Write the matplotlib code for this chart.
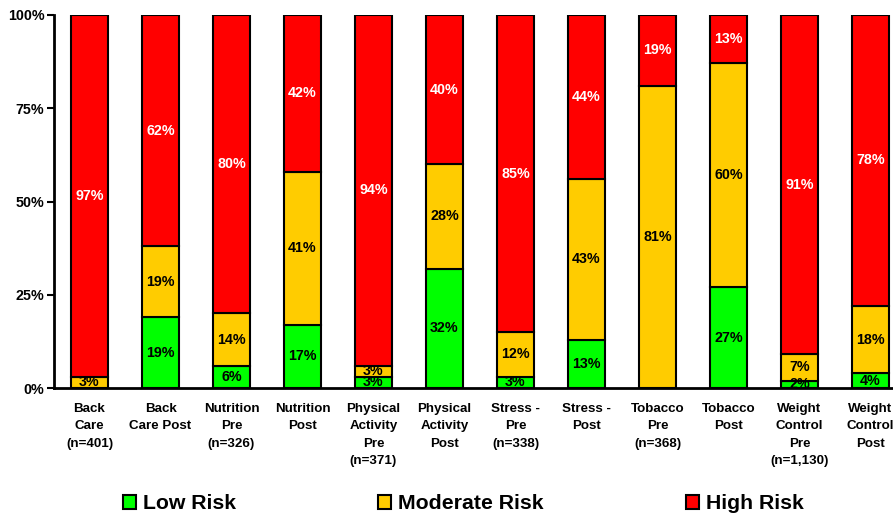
import matplotlib
matplotlib.use("Agg")
import matplotlib.pyplot as plt
from matplotlib.patches import Patch
from matplotlib.ticker import FixedLocator, FuncFormatter

categories = [
    "Back\nCare\n(n=401)", "Back\nCare Post", "Nutrition\nPre\n(n=326)", "Nutrition\nPost",
    "Physical\nActivity\nPre\n(n=371)", "Physical\nActivity\nPost", "Stress -\nPre\n(n=338)",
    "Stress -\nPost", "Tobacco\nPre\n(n=368)", "Tobacco\nPost", "Weight\nControl\nPre\n(n=1,130)",
    "Weight\nControl\nPost",
]
low_risk = [0, 19, 6, 17, 3, 32, 3, 13, 0, 27, 2, 4]
moderate_risk = [3, 19, 14, 41, 3, 28, 12, 43, 81, 60, 7, 18]
high_risk = [97, 62, 80, 42, 94, 40, 85, 44, 19, 13, 91, 78]
y_ticks = [0, 25, 50, 75, 100]

series = [
    ("Low Risk", low_risk, "#00ff00", "black"),
    ("Moderate Risk", moderate_risk, "#ffcc00", "black"),
    ("High Risk", high_risk, "#ff0000", "white"),
]

plt.rcParams["font.family"] = ["Liberation Sans", "DejaVu Sans"]
plt.rcParams["font.weight"] = "bold"

fig = plt.figure(figsize=(8.93, 5.15), dpi=100)
ax = fig.add_axes([54 / 893, 1 - 388 / 515, 852 / 893, 373 / 515])

x = list(range(len(categories)))
bottom = [0] * len(categories)
for name, vals, color, tcolor in series:
    ax.bar(x, vals, width=0.52, bottom=bottom, color=color, edgecolor="black",
           linewidth=1.5, label=name, zorder=2)
    for xi, v, b in zip(x, vals, bottom):
        if v > 0:
            ax.text(xi, b + v / 2, f"{v}%", ha="center", va="center",
                    fontsize=10.3, fontweight="bold", color=tcolor, zorder=3)
    bottom = [b + v for b, v in zip(bottom, vals)]

ax.set_xlim(-0.5, len(categories) - 0.5)
ax.set_ylim(0, 100)
ax.yaxis.set_major_locator(FixedLocator(y_ticks))
ax.yaxis.set_major_formatter(FuncFormatter(lambda v, p: f"{v:.0f}%"))
ax.set_xticks(x)
ax.set_xticklabels(categories, fontsize=9.6, fontweight="bold", linespacing=1.58)
ax.tick_params(axis="x", length=0, pad=11)
ax.tick_params(axis="y", length=5, width=1.5, direction="out", labelsize=10.3, pad=2)
for lbl in ax.get_yticklabels():
    lbl.set_fontweight("bold")

for s in ("top", "right"):
    ax.spines[s].set_visible(False)
for s in ("left", "bottom"):
    ax.spines[s].set_linewidth(2)
    ax.spines[s].set_color("black")

handles = [Patch(facecolor=c, edgecolor="black", linewidth=1.5, label=n) for n, _, c, _ in series]
fig.legend(handles=handles, loc="center", bbox_to_anchor=(0.519, 0.022), ncol=3,
           frameon=False, prop={"size": 15.3, "weight": "bold"},
           handlelength=0.61, handleheight=0.61, handletextpad=0.33, columnspacing=6.7)

fig.savefig("out.png", dpi=100)
